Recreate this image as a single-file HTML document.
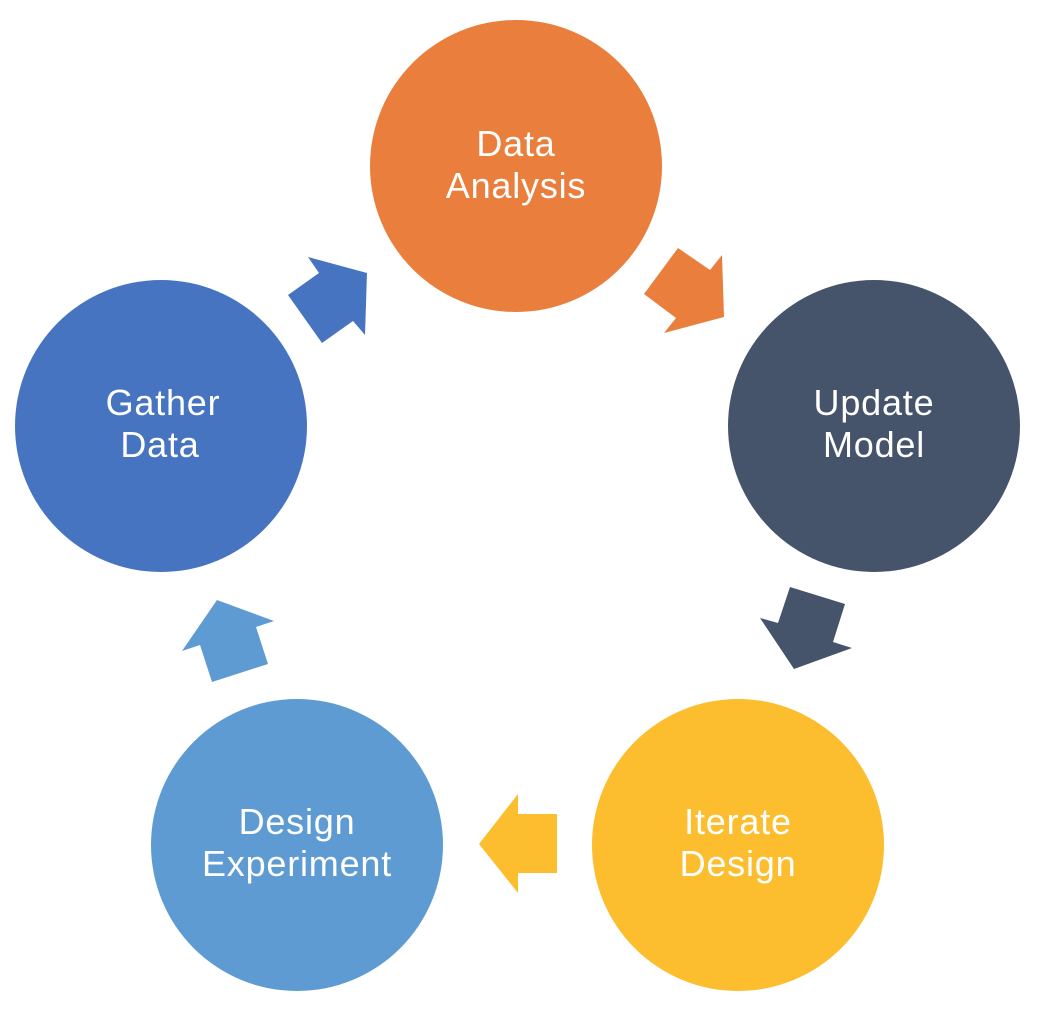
<!DOCTYPE html>
<html><head><meta charset="utf-8"><style>html,body{margin:0;padding:0;background:#fff}svg{display:block}</style></head>
<body>
<svg width="1042" height="1016" viewBox="0 0 1042 1016" xmlns="http://www.w3.org/2000/svg">
<g font-family="Liberation Sans, sans-serif" font-size="36" letter-spacing="0.8" fill="#fff" text-anchor="middle">
<circle cx="516" cy="166" r="146" fill="#EA7E3D"/>
<circle cx="874" cy="426" r="146" fill="#46546B"/>
<circle cx="738" cy="845" r="146" fill="#FCBE2F"/>
<circle cx="297" cy="845" r="146" fill="#5F9BD3"/>
<circle cx="161" cy="426" r="146" fill="#4674C1"/>
<polygon fill="#4674C1" points="308,257 367,273 365,335 353,321 322,343 288,295 319,273"/>
<polygon fill="#EA7E3D" points="678,248 710,270 722,255 724,317 664,333 676,318 644,294"/>
<polygon fill="#46546B" points="790,587 845,604 833,642 852,648 794,669 760,618 778,623"/>
<polygon fill="#FCBE2F" points="479,844 518,794 518,814 557,814 557,873 518,873 518,893"/>
<polygon fill="#5F9BD3" points="217,600 274,621 256,627 268,664 212,682 200,645 182,651"/>
<text x="516" y="156">Data</text><text x="516" y="198">Analysis</text>
<text x="874" y="415">Update</text><text x="874" y="457">Model</text>
<text x="738" y="834">Iterate</text><text x="738" y="876">Design</text>
<text x="297" y="834">Design</text><text x="297" y="876">Experiment</text>
<text x="163" y="415">Gather</text><text x="160" y="457">Data</text>
</g>
</svg>
</body></html>
